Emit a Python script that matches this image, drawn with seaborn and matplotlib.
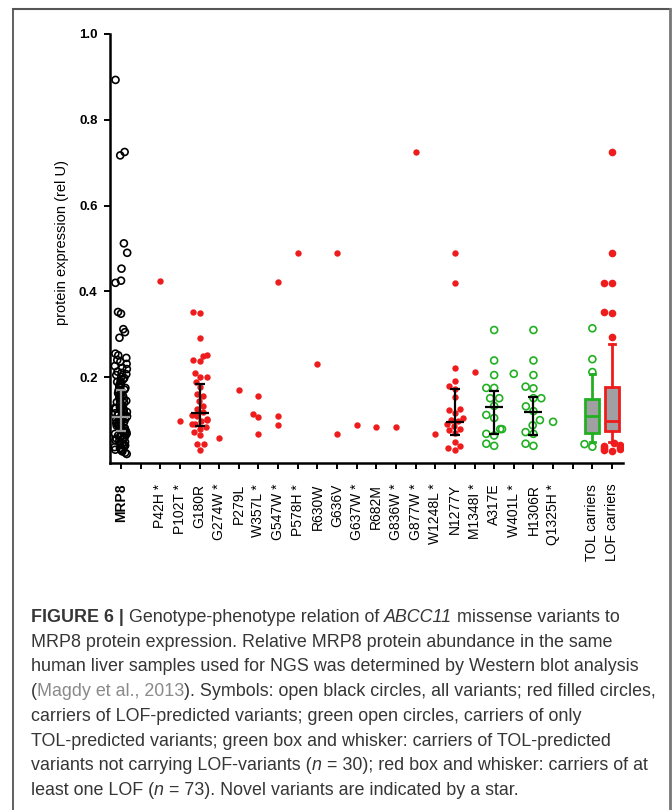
import numpy as np
import pandas as pd
import matplotlib
matplotlib.use('Agg')
import matplotlib.pyplot as plt
from matplotlib.lines import Line2D
import seaborn as sns

# x slots (the two blank ones keep the gaps of the original figure)
categories = ['MRP8', '', 'P42H *', 'P102T *', 'G180R', 'G274W *', 'P279L', 'W357L *',
              'G547W *', 'P578H *', 'R630W', 'G636V', 'G637W *', 'R682M', 'G836W *',
              'G877W *', 'W1248L *', 'N1277Y', 'M1348I *', 'A317E', 'W401L *', 'H1306R',
              'Q1325H *', ' ', 'TOL carriers', 'LOF carriers']

# all samples (open black circles)
mrp8_values = [0.893, 0.725, 0.717, 0.512, 0.490, 0.453, 0.425, 0.420, 0.352, 0.348, 0.312,
               0.305, 0.292, 0.255, 0.251, 0.245, 0.240, 0.236, 0.231, 0.226, 0.222, 0.219,
               0.213, 0.210, 0.207, 0.205, 0.201, 0.198, 0.195, 0.191, 0.189, 0.186, 0.182,
               0.180, 0.177, 0.175, 0.171, 0.169, 0.166, 0.163, 0.160, 0.158, 0.156, 0.154,
               0.151, 0.149, 0.147, 0.145, 0.142, 0.140, 0.138, 0.137, 0.134, 0.132, 0.130,
               0.128, 0.127, 0.125, 0.123, 0.121, 0.119, 0.118, 0.116, 0.114, 0.113, 0.111,
               0.109, 0.108, 0.106, 0.104, 0.103, 0.101, 0.099, 0.098, 0.096, 0.095, 0.093,
               0.091, 0.090, 0.088, 0.087, 0.085, 0.084, 0.082, 0.080, 0.079, 0.077, 0.076,
               0.074, 0.072, 0.071, 0.069, 0.068, 0.066, 0.064, 0.063, 0.061, 0.059, 0.057,
               0.055, 0.053, 0.051, 0.049, 0.047, 0.045, 0.043, 0.041, 0.039, 0.037, 0.035,
               0.033, 0.031, 0.029, 0.027, 0.024, 0.021]

# LOF-predicted variants (red filled circles)
lof_names = ['P42H *', 'P102T *', 'G180R', 'G274W *', 'P279L', 'W357L *', 'G547W *',
             'P578H *', 'R630W', 'G636V', 'G637W *', 'R682M', 'G836W *', 'G877W *',
             'W1248L *', 'N1277Y', 'M1348I *']
lof_values = [[0.424], [0.097],
              [0.352, 0.350, 0.292, 0.252, 0.250, 0.240, 0.237, 0.209, 0.200, 0.200, 0.189,
               0.177, 0.160, 0.156, 0.145, 0.133, 0.125, 0.118, 0.112, 0.110, 0.103, 0.100,
               0.097, 0.092, 0.090, 0.085, 0.080, 0.072, 0.065, 0.044, 0.044, 0.030],
              [0.058], [0.170], [0.157, 0.114, 0.107, 0.068], [0.423, 0.109, 0.088],
              [0.490], [0.230], [0.490, 0.068], [0.088], [0.084], [0.084], [0.726],
              [0.068],
              [0.490, 0.420, 0.221, 0.191, 0.180, 0.172, 0.154, 0.126, 0.124, 0.117, 0.105,
               0.100, 0.097, 0.090, 0.086, 0.080, 0.076, 0.070, 0.049, 0.039, 0.034, 0.030],
              [0.211]]

# TOL-predicted variants (green open circles)
tol_names = ['A317E', 'W401L *', 'H1306R', 'Q1325H *']
tol_values = [[0.310, 0.239, 0.205, 0.175, 0.175, 0.151, 0.151, 0.133, 0.112, 0.105, 0.079,
               0.079, 0.068, 0.064, 0.045, 0.040],
              [0.208],
              [0.310, 0.239, 0.205, 0.178, 0.174, 0.151, 0.151, 0.132, 0.121, 0.100, 0.088,
               0.072, 0.068, 0.045, 0.040],
              [0.096]]

# median and range bars
bar_names = ['MRP8', 'G180R', 'N1277Y', 'A317E', 'H1306R']
bar_median = [0.108, 0.116, 0.095, 0.130, 0.120]
bar_low = [0.075, 0.087, 0.065, 0.067, 0.066]
bar_high = [0.170, 0.184, 0.172, 0.168, 0.153]
bar_colors = ['#9a9a9a', 'black', 'black', 'black', 'black']

# box and whisker for carrier groups
box_names = ['TOL carriers', 'LOF carriers']
box_q1 = [0.069, 0.074]
box_median = [0.110, 0.098]
box_q3 = [0.149, 0.178]
box_whislo = [0.050, 0.050]
box_whishi = [0.208, 0.278]
box_colors = ['#22b022', '#ee1c1c']
tol_outliers = [0.314, 0.242, 0.212, 0.044, 0.038]
lof_outliers = [0.725, 0.490, 0.420, 0.420, 0.352, 0.349, 0.294, 0.046, 0.043, 0.040,
                0.038, 0.035, 0.033, 0.031, 0.029]

RED = '#ee1c1c'
GREEN = '#22b022'

plt.rcParams['font.family'] = ['Liberation Sans', 'DejaVu Sans']

fig = plt.figure(figsize=(6.72, 8.1), dpi=100)
ax = fig.add_axes([110 / 672, 1 - 463 / 810, 513 / 672, 429 / 810])

mrp8_df = pd.DataFrame({'variant': 'MRP8', 'value': mrp8_values})
lof_df = pd.DataFrame({'variant': [n for n, v in zip(lof_names, lof_values) for _ in v],
                       'value': [x for v in lof_values for x in v]})
tol_df = pd.DataFrame({'variant': [n for n, v in zip(tol_names, tol_values) for _ in v],
                       'value': [x for v in tol_values for x in v]})
tol_out_df = pd.DataFrame({'variant': 'TOL carriers', 'value': tol_outliers})
lof_out_df = pd.DataFrame({'variant': 'LOF carriers', 'value': lof_outliers})

np.random.seed(7)
sns.stripplot(data=mrp8_df, x='variant', y='value', order=categories, jitter=0.33,
              size=5, color='black', facecolor='none', edgecolor='black',
              linewidth=1.2, ax=ax, zorder=3)
sns.swarmplot(data=lof_df, x='variant', y='value', order=categories, size=4.6,
              color=RED, linewidth=0, ax=ax, zorder=3)
sns.swarmplot(data=tol_df, x='variant', y='value', order=categories, size=5,
              color=GREEN, facecolor='none', edgecolor=GREEN, linewidth=1.2,
              ax=ax, zorder=3)

# median / range bars
for name, med, lo, hi, col in zip(bar_names, bar_median, bar_low, bar_high, bar_colors):
    x = categories.index(name)
    ax.errorbar(x, med, yerr=[[med - lo], [hi - med]], fmt='_', ms=13, mew=1.6,
                capsize=3.5, capthick=1.6, elinewidth=1.6, color=col, zorder=5)

# carrier box plots
for i, name in enumerate(box_names):
    stats = [dict(med=box_median[i], q1=box_q1[i], q3=box_q3[i],
                  whislo=box_whislo[i], whishi=box_whishi[i], fliers=[])]
    col = box_colors[i]
    ax.bxp(stats, positions=[categories.index(name)], widths=0.7, patch_artist=True,
           showfliers=False, capwidths=0.26, manage_ticks=False,
           boxprops=dict(facecolor='#a0a0a4', edgecolor=col, linewidth=2),
           medianprops=dict(color=col, linewidth=2),
           whiskerprops=dict(color=col, linewidth=2),
           capprops=dict(color=col, linewidth=2), zorder=2)

sns.swarmplot(data=tol_out_df, x='variant', y='value', order=categories, size=5,
              color=GREEN, facecolor='none', edgecolor=GREEN, linewidth=1.2,
              ax=ax, zorder=4)
sns.swarmplot(data=lof_out_df, x='variant', y='value', order=categories, size=5.5,
              color=RED, linewidth=0, ax=ax, zorder=4)

ax.set_xlim(-0.56, len(categories) - 1 + 0.56)
ax.set_ylim(0, 1.0)
ax.set_yticks([0.2, 0.4, 0.6, 0.8, 1.0])
ax.set_yticklabels(['0.2', '0.4', '0.6', '0.8', '1.0'], fontweight='bold', fontsize=9.5)
ax.set_xticks(range(len(categories)))
ax.set_xticklabels(categories, rotation=90, fontsize=10)
ax.get_xticklabels()[0].set_fontweight('bold')
ax.tick_params(direction='out', length=4, width=1.4, color='black')
ax.tick_params(axis='x', pad=11)
ax.tick_params(axis='y', pad=5)
for side in ['top', 'right']:
    ax.spines[side].set_visible(False)
for side in ['left', 'bottom']:
    ax.spines[side].set_linewidth(1.8)
ax.set_xlabel('')
ax.set_ylabel('protein expression (rel U)', fontsize=10.5)
ax.yaxis.set_label_coords(-0.08, 0.515)

# frame round figure and caption
fig.add_artist(Line2D([13 / 672, 13 / 672], [0, 1 - 9 / 810], transform=fig.transFigure,
                      color='#444444', lw=1.2))
fig.add_artist(Line2D([13 / 672, 670 / 672], [1 - 9 / 810, 1 - 9 / 810],
                      transform=fig.transFigure, color='#555555', lw=1.5))
fig.add_artist(Line2D([670 / 672, 670 / 672], [0, 1 - 9 / 810], transform=fig.transFigure,
                      color='#777777', lw=2))

# caption
cap_font = ['Liberation Sans', 'DejaVu Sans']
TXT = '#363636'
cap_lines = [
    [('FIGURE 6 |', 'bold', 'normal', TXT), (' Genotype-phenotype relation of ', 'normal', 'normal', TXT),
     ('ABCC11', 'normal', 'italic', TXT), (' missense variants to', 'normal', 'normal', TXT)],
    [('MRP8 protein expression. Relative MRP8 protein abundance in the same', 'normal', 'normal', TXT)],
    [('human liver samples used for NGS was determined by Western blot analysis', 'normal', 'normal', TXT)],
    [('(', 'normal', 'normal', TXT), ('Magdy et al., 2013', 'normal', 'normal', '#8a8a8a'),
     ('). Symbols: open black circles, all variants; red filled circles,', 'normal', 'normal', TXT)],
    [('carriers of LOF-predicted variants; green open circles, carriers of only', 'normal', 'normal', TXT)],
    [('TOL-predicted variants; green box and whisker: carriers of TOL-predicted', 'normal', 'normal', TXT)],
    [('variants not carrying LOF-variants (', 'normal', 'normal', TXT), ('n', 'normal', 'italic', TXT),
     (' = 30); red box and whisker: carriers of at', 'normal', 'normal', TXT)],
    [('least one LOF (', 'normal', 'normal', TXT), ('n', 'normal', 'italic', TXT),
     (' = 73). Novel variants are indicated by a star.', 'normal', 'normal', TXT)],
]
for k, pieces in enumerate(cap_lines):
    base = 1 - (622 + k * 24.7) / 810
    prev = None
    for txt, weight, style, col in pieces:
        kw = dict(fontsize=12.9, family=cap_font, fontweight=weight, fontstyle=style, color=col)
        if prev is None:
            prev = fig.text(31 / 672, base, txt, va='baseline', ha='left', **kw)
        else:
            prev = ax.annotate(txt, xy=(1, 0), xycoords=prev, va='bottom', ha='left',
                               annotation_clip=False, **kw)

fig.savefig('out.png', dpi=100, facecolor='white')
